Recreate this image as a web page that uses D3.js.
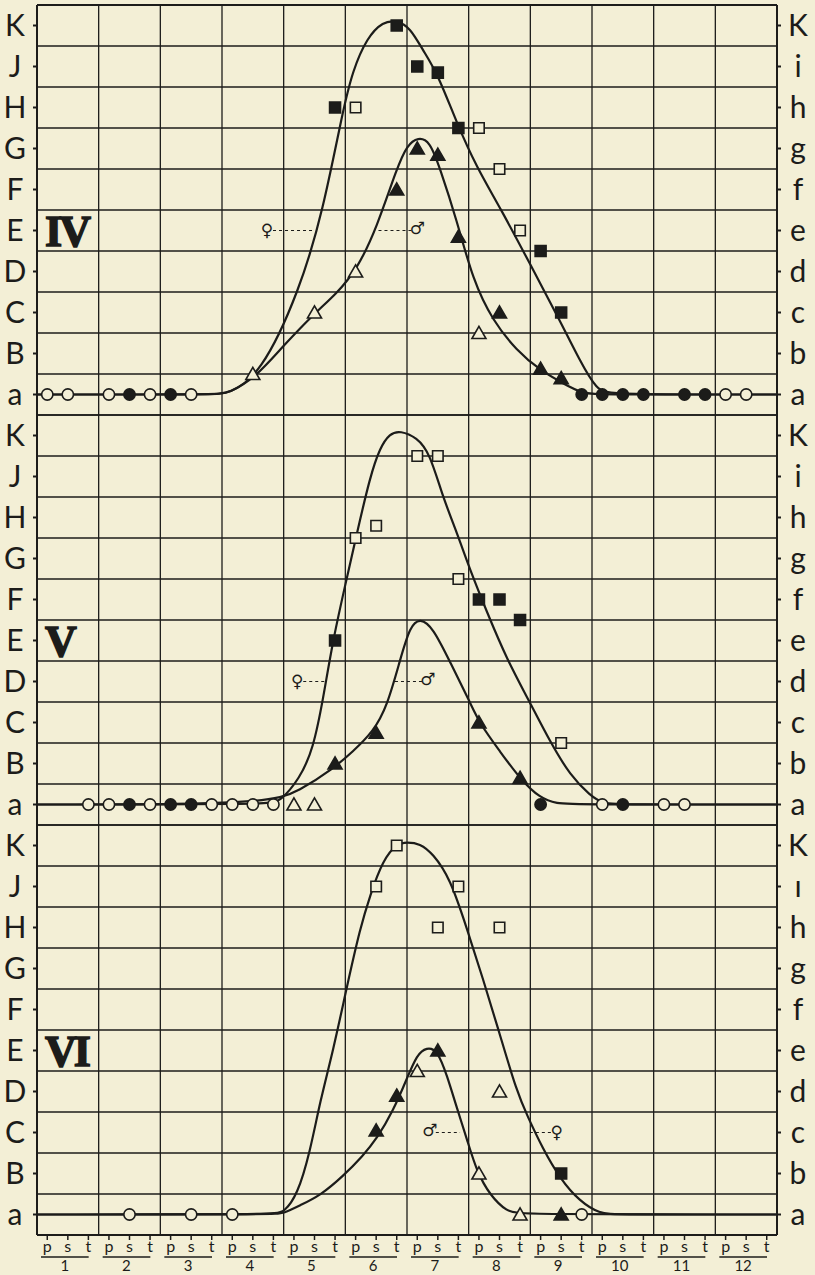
<!DOCTYPE html>
<meta charset="utf-8">
<script src="https://cdn.jsdelivr.net/npm/d3@7"></script>
<style>
    body { margin: 0; background: #f3efd6; }
    svg { display: block; }
</style>
<div id="my_dataviz"></div>
<script>
    // ---- data ----
    const levelsLeft = ["a", "B", "C", "D", "E", "F", "G", "H", "J", "K"];
    const levelsRight = ["a", "b", "c", "d", "e", "f", "g", "h", "i", "K"];
    const levelsRightVI = ["a", "b", "c", "d", "e", "f", "g", "h", "ı", "K"];
    const stages = ["p", "s", "t"];
    const months = ["1", "2", "3", "4", "5", "6", "7", "8", "9", "10", "11", "12"];
    const panelNames = ["IV", "V", "VI"];

    // markers: [month+stage, level (a=0 ... K=9), kind]
    // kind: oc open circle, fc filled circle, os/fs square, ot/ft triangle
    const pointsIV = [
        ["1p", 0, "oc"], ["1s", 0, "oc"], ["2p", 0, "oc"], ["2s", 0, "fc"], ["2t", 0, "oc"],
        ["3p", 0, "fc"], ["3s", 0, "oc"],
        ["4s", 0.5, "ot"], ["5s", 2, "ot"], ["6p", 3, "ot"], ["8p", 1.5, "ot"],
        ["5t", 7, "fs"], ["6p", 7, "os"], ["6t", 9, "fs"], ["7p", 8, "fs"], ["7s", 7.85, "fs"],
        ["7t", 6.5, "fs"], ["8p", 6.5, "os"], ["8s", 5.5, "os"], ["8t", 4, "os"], ["9p", 3.5, "fs"], ["9s", 2, "fs"],
        ["6t", 5, "ft"], ["7p", 6, "ft"], ["7s", 5.85, "ft"], ["7t", 3.85, "ft"], ["8s", 2, "ft"],
        ["9p", 0.63, "ft"], ["9s", 0.4, "ft"],
        ["9t", 0, "fc"], ["10p", 0, "fc"], ["10s", 0, "fc"], ["10t", 0, "fc"], ["11s", 0, "fc"], ["11t", 0, "fc"],
        ["12p", 0, "oc"], ["12s", 0, "oc"]
    ];
    const pointsV = [
        ["1t", 0, "oc"], ["2p", 0, "oc"], ["2s", 0, "fc"], ["2t", 0, "oc"], ["3p", 0, "fc"], ["3s", 0, "fc"],
        ["3t", 0, "oc"], ["4p", 0, "oc"], ["4s", 0, "oc"], ["4t", 0, "oc"], ["5p", 0, "ot"], ["5s", 0, "ot"],
        ["5t", 4, "fs"], ["6p", 6.5, "os"], ["6s", 6.8, "os"], ["7p", 8.5, "os"], ["7s", 8.5, "os"], ["7t", 5.5, "os"],
        ["8p", 5, "fs"], ["8s", 5, "fs"], ["8t", 4.5, "fs"], ["9s", 1.5, "os"],
        ["5t", 1, "ft"], ["6s", 1.75, "ft"], ["8p", 2, "ft"], ["8t", 0.65, "ft"],
        ["9p", 0, "fc"], ["10p", 0, "oc"], ["10s", 0, "fc"], ["11p", 0, "oc"], ["11s", 0, "oc"]
    ];
    const pointsVI = [
        ["2s", 0, "oc"], ["3s", 0, "oc"], ["4p", 0, "oc"],
        ["6s", 8, "os"], ["6t", 9, "os"], ["7s", 7, "os"], ["7t", 8, "os"], ["8s", 7, "os"], ["9s", 1, "fs"],
        ["6s", 2.05, "ft"], ["6t", 2.9, "ft"], ["7p", 3.5, "ot"], ["7s", 4, "ft"],
        ["8p", 1, "ot"], ["8s", 3, "ot"], ["8t", 0, "ot"], ["9s", 0, "ft"], ["9t", 0, "oc"]
    ];

    // fitted curves: [months from start of year, level]
    const femaleIV = [[0, 0], [2.9, 0], [3.1, 0.02], [3.62, 0.46], [4.26, 2.54], [4.64, 4.49], [4.96, 6.93], [5.12, 7.9],
        [5.35, 8.7], [5.61, 9.1], [5.84, 9.12], [6.05, 8.95], [6.26, 8.39], [6.49, 7.85], [6.81, 6.61],
        [7.13, 5.54], [7.51, 4.56], [7.99, 3.2], [8.48, 1.8], [8.8, 0.83], [9.08, 0.1], [9.29, 0], [12, 0]];
    const maleIV = [[0, 0], [2.9, 0], [3.1, 0.02], [3.55, 0.42], [4.0, 1.2], [4.5, 1.98], [4.85, 2.45], [5.19, 3.05],
        [5.51, 4.07], [5.84, 5.54], [6.0, 6.08], [6.18, 6.28], [6.37, 6.18], [6.53, 5.54], [6.81, 4.24],
        [7.07, 2.78], [7.39, 1.8], [7.78, 1.07], [8.16, 0.59], [8.53, 0.27], [8.85, 0.02], [9.13, 0], [12, 0]];
    const femaleV = [[0, 0], [3.75, 0], [3.94, 0.07], [4.26, 0.63], [4.48, 1.36], [4.64, 2.57], [4.8, 4.03],
        [5.03, 5.56], [5.19, 6.63], [5.4, 7.99], [5.56, 8.7], [5.72, 9.05], [5.89, 9.12], [6.16, 8.95],
        [6.37, 8.57], [6.58, 7.5], [6.81, 6.63], [7.02, 5.73], [7.3, 4.68], [7.62, 3.54], [7.99, 2.5],
        [8.32, 1.53], [8.65, 0.7], [8.97, 0.22], [9.18, 0.02], [9.45, 0], [12, 0]];
    const maleV = [[0, 0], [3.75, 0], [4.26, 0.34], [4.8, 0.87], [5.12, 1.29], [5.45, 1.77], [5.68, 2.4],
        [5.89, 3.54], [6.05, 4.35], [6.21, 4.55], [6.42, 4.32], [6.7, 3.47], [7.02, 2.5], [7.18, 1.97],
        [7.51, 1.29], [7.83, 0.63], [8.16, 0.15], [8.43, 0.02], [8.72, 0], [12, 0]];
    const femaleVI = [[0, 0], [3.85, 0], [4.0, 0.05], [4.22, 0.46], [4.43, 1.54], [4.59, 2.76], [4.8, 3.98], [5.03, 5.59],
        [5.24, 6.98], [5.4, 7.78], [5.61, 8.65], [5.84, 9.05], [6.0, 9.08], [6.21, 9.05], [6.42, 8.8],
        [6.7, 8.2], [6.97, 6.98], [7.23, 5.76], [7.51, 4.37], [7.78, 3.0], [7.95, 2.41], [8.2, 1.61],
        [8.48, 0.88], [8.8, 0.32], [9.13, 0.02], [9.37, 0], [12, 0]];
    const maleVI = [[0, 0], [3.85, 0], [4.0, 0.03], [4.26, 0.22], [4.59, 0.46], [4.96, 0.93], [5.29, 1.44], [5.51, 1.85],
        [5.77, 2.51], [6.0, 3.32], [6.16, 3.9], [6.32, 4.08], [6.49, 4.02], [6.65, 3.39], [6.81, 2.59],
        [6.97, 1.85], [7.13, 1.05], [7.35, 0.46], [7.62, 0.07], [7.83, 0], [12, 0]];

    // sex labels: [symbol, label at, dashes to, level]
    const sexIV = [["♀", 3.73, 4.5, 4], ["♂", 6.17, 5.52, 4]];
    const sexV = [["♀", 4.22, 4.67, 3], ["♂", 6.34, 5.8, 3]];
    const sexVI = [["♂", 6.37, 6.86, 2], ["♀", 8.43, 7.95, 2]];

    const panels = [
        {name: panelNames[0], points: pointsIV, curves: [femaleIV, maleIV], sex: sexIV, right: levelsRight},
        {name: panelNames[1], points: pointsV, curves: [femaleV, maleV], sex: sexV, right: levelsRight},
        {name: panelNames[2], points: pointsVI, curves: [femaleVI, maleVI], sex: sexVI, right: levelsRightVI}
    ];

    // ---- layout ----
    const W = 815, H = 1275;
    const plotLeft = 37, plotRight = 777, plotTop = 5, panelH = 410;
    const bg = "#f3efd6", ink = "#1c1c1a";
    const font = "Lato, 'Open Sans', sans-serif";

    const svg = d3.select("#my_dataviz").append("svg")
        .attr("width", W)
        .attr("height", H)
        .style("background", bg);

    const x = d3.scaleLinear().domain([0, 12]).range([plotLeft, plotRight]);
    const xPos = s => {
        const m = parseInt(s);
        const k = stages.indexOf(s.slice(-1));
        return x(m - 1 + (k + 0.5) / 3);
    };

    const plotBottom = plotTop + panelH * panels.length;

    // vertical grid
    svg.append("g").selectAll("line")
        .data(d3.range(0, 13))
        .enter().append("line")
        .attr("x1", d => x(d)).attr("x2", d => x(d))
        .attr("y1", plotTop).attr("y2", plotBottom)
        .attr("stroke", ink)
        .attr("stroke-width", (d) => (d === 0 || d === 12) ? 2 : 1.3);

    const kindShape = {
        oc: d3.symbolCircle, fc: d3.symbolCircle,
        os: d3.symbolSquare, fs: d3.symbolSquare,
        ot: d3.symbolTriangle, ft: d3.symbolTriangle
    };
    const kindSize = {oc: 100, fc: 100, os: 110, fs: 120, ot: 85, ft: 85};

    panels.forEach((p, i) => {
        const pTop = plotTop + i * panelH;
        const y = d3.scaleLinear().domain([-0.5, 9.5]).range([pTop + panelH, pTop]);
        const g = svg.append("g");

        // horizontal grid
        g.selectAll(".hl")
            .data(d3.range(-0.5, 10, 1))
            .enter().append("line")
            .attr("x1", plotLeft).attr("x2", plotRight)
            .attr("y1", d => y(d)).attr("y2", d => y(d))
            .attr("stroke", ink)
            .attr("stroke-width", d => (i === 0 && d > 9) || (i === 2 && d < 0) ? 2 : 1.3);

        // axes labels
        const lv = d3.range(0, 10);
        g.selectAll(".lt")
            .data(lv).enter().append("line")
            .attr("x1", plotLeft - 4).attr("x2", plotLeft)
            .attr("y1", d => y(d)).attr("y2", d => y(d))
            .attr("stroke", ink).attr("stroke-width", 2);
        g.selectAll(".rt")
            .data(lv).enter().append("line")
            .attr("x1", plotRight).attr("x2", plotRight + 4)
            .attr("y1", d => y(d)).attr("y2", d => y(d))
            .attr("stroke", ink).attr("stroke-width", 2);
        g.selectAll(".ll")
            .data(lv).enter().append("text")
            .attr("x", 15).attr("y", d => y(d))
            .attr("dy", "0.36em")
            .attr("text-anchor", "middle")
            .attr("font-family", font)
            .attr("font-size", 30)
            .attr("fill", ink)
            .text(d => levelsLeft[d]);
        g.selectAll(".rl")
            .data(lv).enter().append("text")
            .attr("x", 798).attr("y", d => y(d))
            .attr("dy", "0.36em")
            .attr("text-anchor", "middle")
            .attr("font-family", font)
            .attr("font-size", 30)
            .attr("fill", ink)
            .text(d => p.right[d]);

        // roman numeral
        g.append("text")
            .attr("x", x(0.13)).attr("y", y(4))
            .attr("dy", "0.36em")
            .attr("font-family", "'Liberation Serif', serif")
            .attr("font-weight", "bold")
            .attr("font-size", 44)
            .attr("letter-spacing", -3)
            .attr("fill", ink)
            .attr("stroke", ink)
            .attr("stroke-width", 1.5)
            .text(p.name);

        // curves
        const line = d3.line()
            .x(d => x(d[0]))
            .y(d => y(d[1]))
            .curve(d3.curveBasis);
        g.selectAll(".curve")
            .data(p.curves).enter().append("path")
            .attr("d", line)
            .attr("fill", "none")
            .attr("stroke", ink)
            .attr("stroke-width", 2.2);

        // sex labels
        p.sex.forEach(s => {
            const lx = x(s[1]), tx = x(s[2]), ly = y(s[3]);
            const dir = tx > lx ? 1 : -1;
            g.append("line")
                .attr("x1", lx + dir * 6).attr("x2", tx)
                .attr("y1", ly).attr("y2", ly)
                .attr("stroke", ink)
                .attr("stroke-width", 1.2)
                .attr("stroke-dasharray", "3,3");
            g.append("text")
                .attr("x", lx).attr("y", ly)
                .attr("dy", s[0] === "♀" ? "0.3em" : "0.2em")
                .attr("text-anchor", "middle")
                .attr("font-family", "'DejaVu Sans', sans-serif")
                .attr("font-size", 17)
                .attr("fill", ink)
                .text(s[0]);
        });

        // markers
        g.selectAll(".pt")
            .data(p.points).enter().append("path")
            .attr("transform", d => `translate(${xPos(d[0])},${y(d[1]) + (d[2][1] === "t" ? 1.5 : 0)})`)
            .attr("d", d => d3.symbol().type(kindShape[d[2]]).size(kindSize[d[2]])())
            .attr("fill", d => d[2][0] === "f" ? ink : bg)
            .attr("stroke", ink)
            .attr("stroke-width", 1.6);
    });

    // bottom axis: p s t per month
    const stageData = [];
    months.forEach(m => stages.forEach(s => stageData.push(m + s)));
    svg.append("g").selectAll("line")
        .data(stageData).enter().append("line")
        .attr("x1", d => xPos(d)).attr("x2", d => xPos(d))
        .attr("y1", plotBottom).attr("y2", plotBottom + 5)
        .attr("stroke", ink).attr("stroke-width", 1.5);
    svg.append("g").selectAll("text")
        .data(stageData).enter().append("text")
        .attr("x", d => xPos(d)).attr("y", plotBottom + 17)
        .attr("text-anchor", "middle")
        .attr("font-family", font)
        .attr("font-size", 16)
        .attr("fill", ink)
        .text(d => d.slice(-1));
    const mg = svg.append("g").selectAll("g")
        .data(months).enter().append("g");
    mg.append("line")
        .attr("x1", (d, i) => x(i) + 4).attr("x2", (d, i) => x(i + 1) - 10)
        .attr("y1", plotBottom + 22).attr("y2", plotBottom + 22)
        .attr("stroke", ink).attr("stroke-width", 1.6);
    mg.append("text")
        .attr("x", (d, i) => x(i + 0.45)).attr("y", plotBottom + 36)
        .attr("text-anchor", "middle")
        .attr("font-family", font)
        .attr("font-size", 15)
        .attr("fill", ink)
        .text(d => d);
</script>
